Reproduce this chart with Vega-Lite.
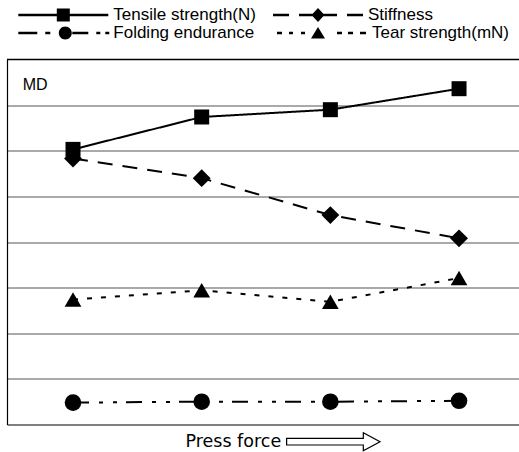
{
  "$schema": "https://vega.github.io/schema/vega-lite/v6.json",
  "width": 512,
  "height": 365,
  "autosize": "none",
  "padding": {"left": 7, "top": 59.5, "right": 0, "bottom": 27.5},
  "background": "white",
  "config": {
    "view": {"stroke": null},
    "legend": {
      "orient": "none", "title": null, "padding": 0,
      "symbolSize": 100, "symbolOffset": 36.5, "labelOffset": 41.5,
      "symbolFillColor": "black", "symbolStrokeWidth": 0, "symbolOpacity": 1,
      "labelFont": "Liberation Sans", "labelFontSize": 17, "labelColor": "black", "labelLimit": 300
    }
  },
  "data": {
    "values": [
      {"series": "Stiffness", "press": 1, "value": 5.83},
      {"series": "Stiffness", "press": 2, "value": 5.40},
      {"series": "Stiffness", "press": 3, "value": 4.59},
      {"series": "Stiffness", "press": 4, "value": 4.08},
      {"series": "Tensile strength(N)", "press": 1, "value": 6.03},
      {"series": "Tensile strength(N)", "press": 2, "value": 6.74},
      {"series": "Tensile strength(N)", "press": 3, "value": 6.90},
      {"series": "Tensile strength(N)", "press": 4, "value": 7.36},
      {"series": "Folding endurance", "press": 1, "value": 0.48},
      {"series": "Folding endurance", "press": 2, "value": 0.50},
      {"series": "Folding endurance", "press": 3, "value": 0.50},
      {"series": "Folding endurance", "press": 4, "value": 0.52},
      {"series": "Tear strength(mN)", "press": 1, "value": 2.74},
      {"series": "Tear strength(mN)", "press": 2, "value": 2.94},
      {"series": "Tear strength(mN)", "press": 3, "value": 2.69},
      {"series": "Tear strength(mN)", "press": 4, "value": 3.21}
    ]
  },
  "resolve": {"scale": {"opacity": "independent"}, "legend": {"opacity": "independent"}},
  "layer": [
    {
      "mark": {"type": "line", "color": "black", "strokeWidth": 2},
      "encoding": {
        "x": {
          "field": "press", "type": "quantitative",
          "scale": {"domain": [0.487, 4.466], "nice": false, "zero": false},
          "axis": {
            "domain": true, "domainColor": "black", "domainWidth": 1.2,
            "ticks": false, "labels": false, "grid": false,
            "title": "Press force",
            "titleFont": "DejaVu Sans", "titleFontSize": 17.5, "titleFontWeight": "normal", "titleColor": "black",
            "titleAnchor": "start", "titleAlign": "left", "titleBaseline": "alphabetic",
            "titleX": 178, "titleY": 22
          }
        },
        "y": {
          "field": "value", "type": "quantitative",
          "scale": {"domain": [0, 8], "nice": false, "zero": false},
          "axis": {
            "values": [1, 2, 3, 4, 5, 6, 7],
            "grid": true, "gridColor": "#555555", "gridWidth": 1,
            "ticks": false, "labels": false,
            "domain": true, "domainColor": "black", "domainWidth": 1.2,
            "title": null
          }
        },
        "strokeDash": {
          "field": "series", "type": "nominal",
          "scale": {
            "domain": ["Tensile strength(N)", "Stiffness", "Folding endurance", "Tear strength(mN)"],
            "range": [[1, 0], [15, 10], [16, 10, 4, 10, 4, 9], [5, 9]]
          },
          "legend": null
        }
      }
    },
    {
      "transform": [{"filter": "datum.series === 'Stiffness'"}],
      "mark": {"type": "point", "filled": true, "color": "black", "size": 320, "shape": "diamond"},
      "encoding": {
        "x": {"field": "press", "type": "quantitative"},
        "y": {"field": "value", "type": "quantitative"},
        "opacity": {
          "field": "series", "type": "nominal", "scale": {"range": [1]},
          "legend": {"legendX": 266, "legendY": -53, "symbolType": "M-9,-0.27H-5.8V0.27H-9Z M-3.8,-0.27H-0.8V0.27H-3.8Z M0.8,-0.27H3.8V0.27H0.8Z M5.8,-0.27H9V0.27H5.8Z M0,-1.4L1.3,0L0,1.4L-1.3,0Z"}
        }
      }
    },
    {
      "transform": [{"filter": "datum.series === 'Tensile strength(N)'"}],
      "mark": {"type": "point", "filled": true, "color": "black", "size": 225, "shape": "square"},
      "encoding": {
        "x": {"field": "press", "type": "quantitative"},
        "y": {"field": "value", "type": "quantitative"},
        "opacity": {
          "field": "series", "type": "nominal", "scale": {"range": [1]},
          "legend": {"legendX": 11.3, "legendY": -53, "symbolType": "M-9,-0.27H9V0.27H-9Z M-1.3,-1.3H1.3V1.3H-1.3Z"}
        }
      }
    },
    {
      "transform": [{"filter": "datum.series === 'Folding endurance'"}],
      "mark": {"type": "point", "filled": true, "color": "black", "size": 275, "shape": "circle"},
      "encoding": {
        "x": {"field": "press", "type": "quantitative"},
        "y": {"field": "value", "type": "quantitative"},
        "opacity": {
          "field": "series", "type": "nominal", "scale": {"range": [1]},
          "legend": {"legendX": 11.3, "legendY": -35, "symbolType": "M-9,-0.27H-5.2V0.27H-9Z M-3.6,-0.27H-2.6V0.27H-3.6Z M-0.9,0A1.3,1.3,0,1,1,1.7,0A1.3,1.3,0,1,1,-0.9,0Z M1.8,-0.27H5V0.27H1.8Z M6.6,-0.27H7.4V0.27H6.6Z M8.4,-0.27H9.2V0.27H8.4Z"}
        }
      }
    },
    {
      "transform": [{"filter": "datum.series === 'Tear strength(mN)'"}],
      "mark": {"type": "point", "filled": true, "color": "black", "size": 280, "shape": "triangle-up"},
      "encoding": {
        "x": {"field": "press", "type": "quantitative"},
        "y": {"field": "value", "type": "quantitative"},
        "opacity": {
          "field": "series", "type": "nominal", "scale": {"range": [1]},
          "legend": {"legendX": 270, "legendY": -35, "symbolType": "M-9,-0.27H-8V0.27H-9Z M-6.6,-0.27H-5.8V0.27H-6.6Z M-4.2,-0.27H-3.4V0.27H-4.2Z M-0.8,-1.2L0.6,1.1H-2.2Z M3,-0.27H4V0.27H3Z M5.2,-0.27H6.2V0.27H5.2Z M7.6,-0.27H8.8V0.27H7.6Z"}
        }
      }
    },
    {
      "data": {"values": [{}]},
      "mark": {"type": "rule", "color": "black", "strokeWidth": 1.5},
      "encoding": {"y": {"datum": 8}}
    },
    {
      "data": {"values": [{}]},
      "mark": {"type": "text", "text": "MD", "font": "Liberation Sans", "fontSize": 16, "fontWeight": "normal", "color": "black", "align": "left", "baseline": "middle"},
      "encoding": {"x": {"datum": 0.609}, "y": {"datum": 7.445}}
    },
    {
      "data": {"values": [{}]},
      "mark": {"type": "point", "shape": "M-4.67,-0.33H3V-0.9L4.67,0L3,0.9V0.33H-4.67Z", "size": 400, "filled": true, "fill": "white", "stroke": "black", "strokeWidth": 1.2, "opacity": 1, "clip": false},
      "encoding": {"x": {"datum": 3.023}, "y": {"datum": -0.377}}
    }
  ]
}
